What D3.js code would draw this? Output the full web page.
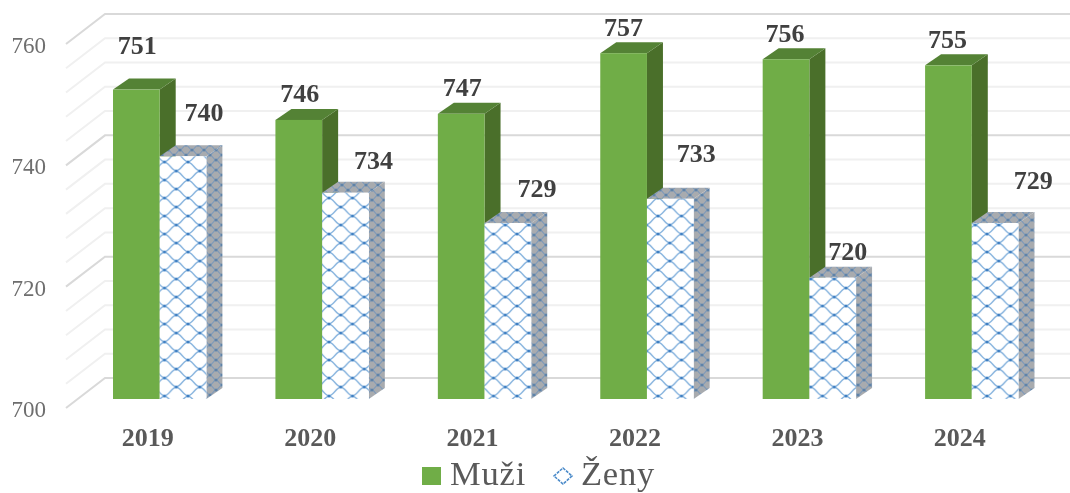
<!DOCTYPE html>
<html>
<head>
<meta charset="utf-8">
<script src="https://cdn.jsdelivr.net/npm/d3@7"></script>
<style>
  html, body { margin: 0; background: #fff; }
  svg { display: block; font-family: "Liberation Serif", serif; filter: blur(0.45px); }
</style>
</head>
<body>
<div id="chart"></div>
<script>
const years = ["2019", "2020", "2021", "2022", "2023", "2024"];
const seriesNames = ["Muži", "Ženy"];
const muzi = [751, 746, 747, 757, 756, 755];
const zeny = [740, 734, 729, 733, 720, 729];
const majorTicks = [700, 720, 740, 760];
const minorTicks = [704, 708, 712, 716, 724, 728, 732, 736, 744, 748, 752, 756];

// hand-placed data labels in the original, offset from the top centre of each bar
const muziNudge = [[1, -44], [1, -26], [1, -26], [0, -26], [-1, -26], [-1, -26]];
const zenyNudge = [[21, -44], [28, -32], [29, -35], [26, -45], [15, -26], [38, -43]];

const width = 1070, height = 493;
const depthX = 16, depthY = -11;   // bar depth
const wallX = 39, wallY = -30;     // side wall of the 3D box

const svg = d3.select("#chart").append("svg")
  .attr("width", width).attr("height", height);

const defs = svg.append("defs");
function trellis(id, w, h, bg, line, node, sw) {
  const p = defs.append("pattern").attr("id", id)
    .attr("patternUnits", "userSpaceOnUse").attr("width", w).attr("height", h);
  p.append("rect").attr("width", w).attr("height", h).attr("fill", bg);
  const cx = w / 2, cy = h / 2;
  p.append("path")
    .attr("d", `M0,0C${cx * 0.4},${cy * 0.1} ${cx * 0.6},${cy * 0.9} ${cx},${cy}` +
      `C${cx * 1.4},${cy * 0.9} ${cx * 1.6},${cy * 0.1} ${w},0` +
      `M0,${h}C${cx * 0.4},${h - cy * 0.1} ${cx * 0.6},${h - cy * 0.9} ${cx},${cy}` +
      `C${cx * 1.4},${h - cy * 0.9} ${cx * 1.6},${h - cy * 0.1} ${w},${h}`)
    .attr("fill", "none").attr("stroke", line).attr("stroke-width", sw);
  [[0, 0], [w, 0], [0, h], [w, h], [cx, cy]].forEach(c => {
    p.append("circle").attr("cx", c[0]).attr("cy", c[1]).attr("r", 1.5).attr("fill", node);
  });
}
trellis("zenyFront", 23.5, 18, "#fff", "#86b3de", "#3f7fc2", 1.4);
trellis("zenyShade", 12, 10, "#a8abaf", "#7d99b9", "#5f83a8", 1.2);

const y = d3.scaleLinear().domain([700, 760]).range([399, 35]);
const x0 = d3.scaleBand().domain(years).range([78.5, 1053]).paddingInner(0.425).paddingOuter(0.2125);
const x1 = d3.scaleBand().domain(seriesNames).range([0, x0.bandwidth()]);

// back wall grid and left wall
const grid = svg.append("g").attr("fill", "none");
function wallLine(v, color) {
  grid.append("path")
    .attr("d", `M66,${y(v) + 9}L${66 + wallX},${y(v) + 9 + wallY}H${width}`)
    .attr("stroke", color).attr("stroke-width", 2);
}
minorTicks.forEach(v => wallLine(v, "#f0f0f0"));
majorTicks.forEach(v => wallLine(v, "#d9d9d9"));

svg.append("g")
  .attr("transform", "translate(52,10)")
  .call(d3.axisLeft(y).tickValues(majorTicks).tickSize(0).tickPadding(6))
  .call(g => g.select(".domain").remove())
  .call(g => g.selectAll("text").attr("font-size", 23).attr("fill", "#6e6e6e")
    .attr("font-family", "Liberation Serif"));

function drawBar(g, xLeft, v, w, front, side, top) {
  const yt = y(v), yb = y(700), xr = xLeft + w;
  g.append("polygon")
    .attr("points", [[xr, yt], [xr + depthX, yt + depthY], [xr + depthX, yb + depthY], [xr, yb]].join(" "))
    .attr("fill", side);
  g.append("polygon")
    .attr("points", [[xLeft, yt], [xLeft + depthX, yt + depthY], [xr + depthX, yt + depthY], [xr, yt]].join(" "))
    .attr("fill", top);
  g.append("rect").attr("x", xLeft).attr("y", yt).attr("width", w).attr("height", yb - yt)
    .attr("fill", front);
}

const bars = svg.append("g");
years.forEach((yr, i) => {
  const g = bars.append("g");
  drawBar(g, x0(yr) + x1("Muži"), muzi[i], x1.bandwidth(), "#70ad47", "#4a6f2a", "#548235");
  drawBar(g, x0(yr) + x1("Ženy"), zeny[i], x1.bandwidth(), "url(#zenyFront)", "url(#zenyShade)", "url(#zenyShade)");
});

// data labels
const labels = svg.append("g").attr("font-size", 26).attr("font-weight", "bold")
  .attr("fill", "#404040").attr("text-anchor", "middle").attr("dominant-baseline", "central");
years.forEach((yr, i) => {
  labels.append("text")
    .attr("x", x0(yr) + x1("Muži") + x1.bandwidth() / 2 + muziNudge[i][0])
    .attr("y", y(muzi[i]) + muziNudge[i][1])
    .text(muzi[i]);
  labels.append("text")
    .attr("x", x0(yr) + x1("Ženy") + x1.bandwidth() / 2 + zenyNudge[i][0])
    .attr("y", y(zeny[i]) + zenyNudge[i][1])
    .text(zeny[i]);
});

svg.append("g")
  .attr("transform", "translate(-12,399)")
  .call(d3.axisBottom(x0).tickSize(0).tickPadding(29))
  .call(g => g.select(".domain").remove())
  .call(g => g.selectAll("text").attr("font-size", 26).attr("font-weight", "bold")
    .attr("fill", "#595959").attr("font-family", "Liberation Serif"));

// legend
const legend = svg.append("g").attr("font-size", 34.5).attr("letter-spacing", 0.8).attr("fill", "#595959");
legend.append("rect").attr("x", 422).attr("y", 467).attr("width", 19).attr("height", 18)
  .attr("fill", "#70ad47");
legend.append("text").attr("x", 450).attr("y", 485.4).text(seriesNames[0]);
legend.append("path").attr("d", "M563,468L572,476L563,484L554,476Z")
  .attr("fill", "#fff").attr("stroke", "#4a8ac9").attr("stroke-width", 1.6)
  .attr("stroke-dasharray", "3 1");
legend.append("text").attr("x", 581).attr("y", 485.4).text(seriesNames[1]);
</script>
</body>
</html>
